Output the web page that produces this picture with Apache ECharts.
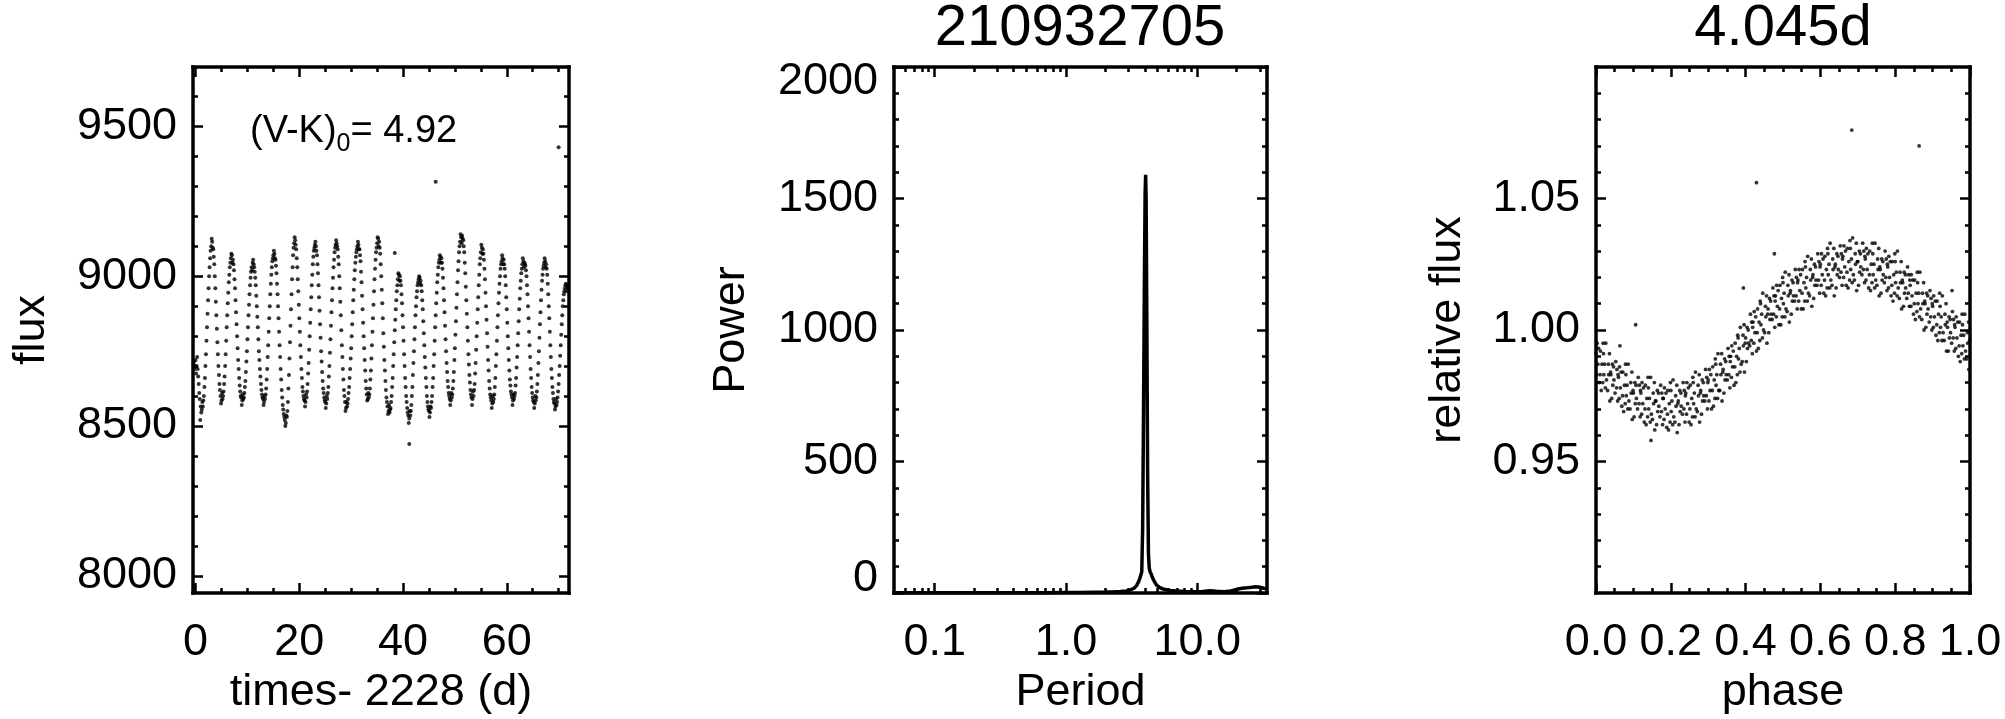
<!DOCTYPE html>
<html><head><meta charset="utf-8">
<script src="https://cdn.jsdelivr.net/npm/echarts@6/dist/echarts.min.js"></script>
<style>html,body{margin:0;padding:0;background:#fff}#c{width:2005px;height:719px}</style>
</head><body><div id="c"></div>
<script>
// ---------- DATA ----------
// Panel 1: light curve [time - 2228 (d), flux]
const lightCurve = [
[-0.4,8705],[-0.3,8715],[-0.2,8690],[-0.1,8700],[0,8720],[0.1,8675],[0.2,8700],[0.3,8730],[0.4,8690],[0.5,8665],[0.6,8640],[0.7,8610],[0.8,8590],[0.9,8520],[1,8565],[1.1,8545],[1.2,8555],[1.3,8580],
[1.4,8565],[1.5,8585],[1.6,8600],[1.7,8630],[1.8,8660],[1.9,8700],[2,8740],[2.1,8785],[2.2,8830],[2.3,8875],[2.4,8920],[2.5,8960],[2.6,9000],[2.7,9030],[2.8,9060],[2.9,9085],[3,9100],[3.1,9125],[3.2,9115],[3.3,9095],
[3.4,9090],[3.5,9065],[3.6,9040],[3.7,9000],[3.8,8960],[3.9,8915],[4,8870],[4.1,8825],[4.2,8780],[4.3,8740],[4.4,8700],[4.5,8670],[4.6,8640],[4.7,8620],[4.8,8600],[4.9,8575],[5,8585],[5.1,8610],[5.2,8590],
[5.3,8600],[5.4,8615],[5.5,8640],[5.6,8665],[5.7,8700],[5.8,8740],[5.9,8785],[6,8830],[6.1,8870],[6.2,8910],[6.3,8945],[6.4,8980],[6.5,9005],[6.6,9030],[6.7,9045],[6.8,9060],[6.9,9075],[7,9070],[7.1,9045],[7.2,9055],
[7.3,9040],[7.4,9020],[7.5,8990],[7.6,8960],[7.7,8920],[7.8,8880],[7.9,8840],[8,8800],[8.1,8760],[8.2,8720],[8.3,8690],[8.4,8660],[8.5,8635],[8.6,8615],[8.7,8600],[8.8,8595],[8.9,8570],[9,8585],[9.1,8605],[9.2,8590],
[9.3,8595],[9.4,8610],[9.5,8630],[9.6,8650],[9.7,8680],[9.8,8715],[9.9,8750],[10,8790],[10.1,8830],[10.2,8870],[10.3,8905],[10.4,8940],[10.5,8970],[10.6,8995],[10.7,9015],[10.8,9030],[10.9,9020],[11,9045],[11.1,9055],[11.2,9040],
[11.3,9030],[11.4,9015],[11.5,8995],[11.6,8970],[11.7,8935],[11.8,8900],[11.9,8865],[12,8830],[12.1,8790],[12.2,8750],[12.3,8720],[12.4,8690],[12.5,8665],[12.6,8640],[12.7,8620],[12.8,8605],[12.9,8595],[13,8590],[13.1,8570],[13.2,8580],[13.3,8600],[13.4,8590],
[13.5,8605],[13.6,8625],[13.7,8655],[13.8,8690],[13.9,8730],[14,8770],[14.1,8815],[14.2,8860],[14.3,8900],[14.4,8940],[14.5,8975],[14.6,9005],[14.7,9030],[14.8,9050],[14.9,9060],[15,9070],[15.1,9085],[15.2,9075],[15.3,9060],[15.4,9055],
[15.5,9035],[15.6,9010],[15.7,8975],[15.8,8940],[15.9,8900],[16,8860],[16.1,8815],[16.2,8770],[16.3,8730],[16.4,8690],[16.5,8655],[16.6,8620],[16.7,8595],[16.8,8570],[16.9,8555],[17,8540],[17.1,8530],[17.2,8520],[17.3,8500],[17.4,8510],[17.5,8535],[17.6,8530],
[17.7,8550],[17.8,8580],[17.9,8625],[18,8670],[18.1,8725],[18.2,8780],[18.3,8835],[18.4,8890],[18.5,8940],[18.6,8990],[18.7,9030],[18.8,9070],[18.9,9095],[19,9110],[19.1,9130],[19.2,9120],[19.3,9105],
[19.4,9090],[19.5,9060],[19.6,9030],[19.7,8990],[19.8,8950],[19.9,8905],[20,8860],[20.1,8815],[20.2,8770],[20.3,8730],[20.4,8690],[20.5,8660],[20.6,8630],[20.7,8615],[20.8,8600],[20.9,8590],[21,8585],[21.1,8565],[21.2,8580],[21.3,8605],[21.4,8595],
[21.5,8615],[21.6,8640],[21.7,8675],[21.8,8710],[21.9,8755],[22,8800],[22.1,8845],[22.2,8890],[22.3,8930],[22.4,8970],[22.5,9005],[22.6,9040],[22.7,9065],[22.8,9085],[22.9,9095],[23,9105],[23.1,9115],[23.2,9100],[23.3,9085],
[23.4,9070],[23.5,9040],[23.6,9010],[23.7,8970],[23.8,8930],[23.9,8885],[24,8840],[24.1,8795],[24.2,8750],[24.3,8715],[24.4,8680],[24.5,8650],[24.6,8625],[24.7,8610],[24.8,8595],[24.9,8585],[25,8580],[25.1,8560],[25.2,8575],[25.3,8600],[25.4,8590],
[25.5,8610],[25.6,8630],[25.7,8665],[25.8,8700],[25.9,8745],[26,8790],[26.1,8835],[26.2,8880],[26.3,8920],[26.4,8960],[26.5,8995],[26.6,9030],[26.7,9055],[26.8,9080],[26.9,9095],[27,9105],[27.1,9120],[27.2,9110],[27.3,9100],[27.4,9090],
[27.5,9065],[27.6,9040],[27.7,9000],[27.8,8960],[27.9,8915],[28,8870],[28.1,8820],[28.2,8770],[28.3,8730],[28.4,8690],[28.5,8655],[28.6,8620],[28.7,8600],[28.8,8580],[28.9,8550],[29,8560],[29.1,8580],[29.2,8565],[29.3,8575],
[29.4,8590],[29.5,8610],[29.6,8630],[29.7,8660],[29.8,8690],[29.9,8725],[30,8760],[30.1,8800],[30.2,8840],[30.3,8880],[30.4,8920],[30.5,8955],[30.6,8990],[30.7,9020],[30.8,9045],[30.9,9065],[31,9080],[31.1,9090],[31.2,9100],[31.3,9115],[31.4,9105],[31.5,9090],[31.6,9090],[31.7,9070],
[31.8,9050],[31.9,9015],[32,8980],[32.1,8935],[32.2,8890],[32.3,8845],[32.4,8800],[32.5,8760],[32.6,8720],[32.7,8685],[32.8,8650],[32.9,8625],[33,8605],[33.1,8585],[33.2,8590],[33.3,8610],[33.4,8595],[33.5,8605],
[33.6,8625],[33.7,8655],[33.8,8685],[33.9,8725],[34,8770],[34.1,8815],[34.2,8860],[34.3,8905],[34.4,8950],[34.5,8990],[34.6,9025],[34.7,9055],[34.8,9080],[34.9,9095],[35,9110],[35.1,9130],[35.2,9125],[35.3,9100],[35.4,9115],[35.5,9095],
[35.6,9075],[35.7,9040],[35.8,9000],[35.9,8955],[36,8910],[36.1,8860],[36.2,8810],[36.3,8765],[36.4,8720],[36.5,8685],[36.6,8650],[36.7,8620],[36.8,8595],[36.9,8580],[37,8565],[37.1,8540],[37.2,8550],[37.3,8570],[37.4,8545],[37.5,8555],[37.6,8560],[37.7,8580],
[37.8,8600],[37.9,8630],[38,8660],[38.1,8700],[38.2,8740],[38.3,8780],[38.4,8820],[38.5,8855],[38.6,8890],[38.7,8920],[38.8,8950],[38.9,8970],[39,8990],[39.1,9010],[39.2,9005],[39.3,8985],[39.4,9000],[39.5,8985],
[39.6,8970],[39.7,8940],[39.8,8910],[39.9,8870],[40,8830],[40.1,8785],[40.2,8740],[40.3,8700],[40.4,8660],[40.5,8630],[40.6,8600],[40.7,8580],[40.8,8560],[40.9,8545],[41,8535],[41.1,8510],[41.2,8525],[41.3,8550],[41.4,8535],[41.5,8550],
[41.6,8570],[41.7,8600],[41.8,8630],[41.9,8670],[42,8710],[42.1,8750],[42.2,8790],[42.3,8830],[42.4,8870],[42.5,8900],[42.6,8930],[42.7,8950],[42.8,8970],[42.9,8980],[43,8990],[43.1,9000],[43.2,8995],[43.3,8975],[43.4,8985],[43.5,8970],
[43.6,8950],[43.7,8920],[43.8,8890],[43.9,8850],[44,8810],[44.1,8770],[44.2,8730],[44.3,8695],[44.4,8660],[44.5,8630],[44.6,8600],[44.7,8580],[44.8,8565],[44.9,8555],[45,8550],[45.1,8530],[45.2,8545],[45.3,8565],[45.4,8560],[45.5,8580],
[45.6,8600],[45.7,8630],[45.8,8660],[45.9,8700],[46,8740],[46.1,8785],[46.2,8830],[46.3,8870],[46.4,8910],[46.5,8945],[46.6,8980],[46.7,9005],[46.8,9030],[46.9,9045],[47,9055],[47.1,9070],[47.2,9065],[47.3,9045],[47.4,9060],[47.5,9045],
[47.6,9025],[47.7,8995],[47.8,8960],[47.9,8920],[48,8880],[48.1,8835],[48.2,8790],[48.3,8750],[48.4,8710],[48.5,8680],[48.6,8650],[48.7,8630],[48.8,8610],[48.9,8600],[49,8590],[49.1,8570],[49.2,8585],[49.3,8610],[49.4,8595],[49.5,8605],
[49.6,8625],[49.7,8650],[49.8,8680],[49.9,8720],[50,8760],[50.1,8805],[50.2,8850],[50.3,8895],[50.4,8940],[50.5,8980],[50.6,9020],[50.7,9050],[50.8,9080],[50.9,9100],[51,9115],[51.1,9140],[51.2,9130],[51.3,9110],[51.4,9135],[51.5,9125],[51.6,9120],[51.7,9100],
[51.8,9080],[51.9,9045],[52,9010],[52.1,8965],[52.2,8920],[52.3,8875],[52.4,8830],[52.5,8785],[52.6,8740],[52.7,8705],[52.8,8670],[52.9,8645],[53,8620],[53.1,8605],[53.2,8595],[53.3,8570],[53.4,8590],[53.5,8615],[53.6,8600],[53.7,8620],
[53.8,8640],[53.9,8675],[54,8710],[54.1,8755],[54.2,8800],[54.3,8845],[54.4,8890],[54.5,8930],[54.6,8970],[54.7,9005],[54.8,9040],[54.9,9060],[55,9080],[55.1,9105],[55.2,9095],[55.3,9075],[55.4,9090],[55.5,9075],
[55.6,9055],[55.7,9025],[55.8,8990],[55.9,8945],[56,8900],[56.1,8855],[56.2,8810],[56.3,8765],[56.4,8720],[56.5,8685],[56.6,8650],[56.7,8625],[56.8,8605],[56.9,8595],[57,8585],[57.1,8560],[57.2,8575],[57.3,8600],[57.4,8580],[57.5,8590],
[57.6,8605],[57.7,8630],[57.8,8660],[57.9,8700],[58,8740],[58.1,8785],[58.2,8830],[58.3,8870],[58.4,8910],[58.5,8945],[58.6,8975],[58.7,9000],[58.8,9025],[58.9,9040],[59,9050],[59.1,9070],[59.2,9060],[59.3,9040],[59.4,9055],[59.5,9040],
[59.6,9025],[59.7,9000],[59.8,8970],[59.9,8930],[60,8890],[60.1,8845],[60.2,8800],[60.3,8760],[60.4,8720],[60.5,8685],[60.6,8655],[60.7,8635],[60.8,8615],[60.9,8605],[61,8595],[61.1,8570],[61.2,8585],[61.3,8605],[61.4,8590],[61.5,8600],
[61.6,8610],[61.7,8635],[61.8,8660],[61.9,8695],[62,8730],[62.1,8770],[62.2,8810],[62.3,8850],[62.4,8890],[62.5,8925],[62.6,8960],[62.7,8985],[62.8,9010],[62.9,9025],[63,9040],[63.1,9060],[63.2,9050],[63.3,9030],[63.4,9045],[63.5,9040],[63.6,9035],[63.7,9020],
[63.8,9000],[63.9,8970],[64,8940],[64.1,8900],[64.2,8860],[64.3,8815],[64.4,8770],[64.5,8730],[64.6,8690],[64.7,8660],[64.8,8630],[64.9,8610],[65,8595],[65.1,8585],[65.2,8580],[65.3,8560],[65.4,8575],[65.5,8600],[65.6,8585],[65.7,8595],
[65.8,8615],[65.9,8640],[66,8670],[66.1,8710],[66.2,8750],[66.3,8795],[66.4,8840],[66.5,8880],[66.6,8920],[66.7,8955],[66.8,8985],[66.9,9005],[67,9025],[67.1,9035],[67.2,9045],[67.3,9060],[67.4,9050],[67.5,9030],[67.6,9040],[67.7,9025],
[67.8,9005],[67.9,8975],[68,8940],[68.1,8900],[68.2,8860],[68.3,8815],[68.4,8770],[68.5,8730],[68.6,8690],[68.7,8660],[68.8,8630],[68.9,8610],[69,8590],[69.1,8580],[69.2,8575],[69.3,8555],[69.4,8565],[69.5,8590],[69.6,8570],[69.7,8580],
[69.8,8595],[69.9,8615],[70,8640],[70.1,8670],[70.2,8700],[70.3,8735],[70.4,8770],[70.5,8805],[70.6,8840],[70.7,8870],[70.8,8900],[70.9,8920],[71,8940],[71.1,8950],[71.2,8960],[71.3,8970],[71.4,8975],[71.5,8950],[71.6,8970],[71.7,8960],[71.8,8965],
[46.3,9315],[70.0,9430],[38.4,9077],[41.2,8440]
];
const timeTicks = [0, 20, 40, 60];
const timeMinorTicks = [5, 10, 15, 25, 30, 35, 45, 50, 55, 65, 70];
const fluxTicks = [8000, 8500, 9000, 9500];
const fluxMinorTicks = [8100, 8200, 8300, 8400, 8600, 8700, 8800, 8900, 9100, 9200, 9300, 9400, 9600];

// Panel 2: periodogram [period (d), power]
const periodogram = [
[0.049,1],[0.07,1],[0.1,1],[0.15,1],[0.2,1],[0.3,1],[0.5,1],[0.7,1],[1,2],[1.3,2],[1.6,3],[2,4],[2.3,5],[2.6,6],[2.9,8],
[3.1,12],[3.3,18],[3.45,28],[3.55,40],[3.65,55],[3.72,62],[3.78,80],[3.84,250],[3.9,700],[3.96,1200],[4.01,1520],[4.045,1590],
[4.08,1500],[4.13,1050],[4.19,450],[4.25,150],[4.31,95],[4.38,80],[4.46,72],[4.55,60],[4.7,45],[4.9,30],[5.2,20],[5.6,14],
[6.2,10],[7,8],[8,6],[9.5,5],[11,6],[12.5,9],[14,7],[16,5],[18,8],[20,14],[22,18],[24,20],[26,22],[28,24],[30,22],[32,18],[34,16]
];
const periodTicks = [0.1, 1, 10];
const periodMinorTicks = [0.06,0.07,0.08,0.09,0.2,0.3,0.4,0.5,0.6,0.7,0.8,0.9,2,3,4,5,6,7,8,9,20,30];
const powerTicks = [0, 500, 1000, 1500, 2000];
const powerMinorTicks = [100,200,300,400,600,700,800,900,1100,1200,1300,1400,1600,1700,1800,1900];

// Panel 3: phase-folded light curve [phase, relative flux]
const phaseFolded = [
[.000,.991],[.002,.983],[.003,.995],[.005,.987],[.007,.993],[.009,.980],
[.011,.983],[.012,.992],[.014,.977],[.016,.987],[.018,.980],[.019,.995],
[.020,.991],[.021,.983],[.023,.987],[.025,.978],[.026,.995],[.028,.981],
[.031,.977],[.033,.987],[.034,.983],[.036,.991],[.037,.973],[.039,.984],
[.040,.983],[.042,.974],[.044,.987],[.045,.979],[.047,.986],[.048,.981],
[.051,.976],[.053,.988],[.055,.978],[.056,.985],[.058,.973],[.059,.983],
[.060,.982],[.062,.974],[.063,.986],[.065,.978],[.067,.984],[.069,.971],
[.071,.975],[.072,.984],[.074,.969],[.076,.979],[.078,.972],[.079,.987],
[.080,.983],[.081,.975],[.083,.979],[.085,.970],[.086,.987],[.088,.973],
[.091,.970],[.093,.980],[.094,.976],[.096,.984],[.097,.966],[.099,.977],
[.100,.976],[.102,.967],[.104,.980],[.105,.972],[.107,.979],[.108,.974],
[.111,.970],[.113,.982],[.115,.972],[.116,.979],[.118,.967],[.119,.977],
[.120,.976],[.122,.968],[.123,.980],[.125,.972],[.127,.978],[.129,.965],
[.131,.970],[.132,.979],[.134,.964],[.136,.974],[.138,.967],[.139,.982],
[.140,.978],[.141,.970],[.143,.974],[.145,.965],[.146,.982],[.148,.968],
[.151,.966],[.153,.976],[.154,.972],[.156,.980],[.157,.962],[.159,.973],
[.160,.973],[.162,.964],[.164,.977],[.165,.969],[.167,.976],[.168,.971],
[.171,.967],[.173,.979],[.175,.969],[.176,.976],[.178,.964],[.179,.974],
[.180,.974],[.182,.966],[.183,.978],[.185,.970],[.187,.976],[.189,.963],
[.191,.968],[.192,.977],[.194,.962],[.196,.972],[.198,.965],[.199,.980],
[.200,.977],[.201,.969],[.203,.973],[.205,.964],[.206,.981],[.208,.967],
[.211,.965],[.213,.975],[.214,.971],[.216,.979],[.217,.961],[.219,.972],
[.220,.973],[.222,.964],[.224,.977],[.225,.969],[.227,.976],[.228,.971],
[.231,.968],[.233,.980],[.235,.970],[.236,.977],[.238,.965],[.239,.975],
[.240,.976],[.242,.968],[.243,.980],[.245,.972],[.247,.978],[.249,.965],
[.251,.970],[.252,.979],[.254,.964],[.256,.974],[.258,.967],[.259,.982],
[.260,.980],[.261,.972],[.263,.976],[.265,.967],[.266,.984],[.268,.970],
[.271,.969],[.273,.979],[.274,.975],[.276,.983],[.277,.965],[.279,.976],
[.280,.977],[.282,.968],[.284,.981],[.285,.973],[.287,.980],[.288,.975],
[.291,.973],[.293,.985],[.295,.975],[.296,.982],[.298,.970],[.299,.980],
[.300,.981],[.302,.973],[.303,.985],[.305,.977],[.307,.983],[.309,.970],
[.311,.977],[.312,.986],[.314,.971],[.316,.981],[.318,.974],[.319,.989],
[.320,.987],[.321,.979],[.323,.983],[.325,.974],[.326,.991],[.328,.977],
[.331,.977],[.333,.987],[.334,.983],[.336,.991],[.337,.973],[.339,.984],
[.340,.985],[.342,.976],[.344,.989],[.345,.981],[.347,.988],[.348,.983],
[.351,.981],[.353,.993],[.355,.983],[.356,.990],[.358,.978],[.359,.988],
[.360,.990],[.362,.982],[.363,.994],[.365,.986],[.367,.992],[.369,.979],
[.371,.986],[.372,.995],[.374,.980],[.376,.990],[.378,.983],[.379,.998],
[.380,.997],[.381,.989],[.383,.993],[.385,.984],[.386,1.001],[.388,.987],
[.391,.988],[.393,.998],[.394,.994],[.396,1.002],[.397,.984],[.399,.995],
[.400,.997],[.402,.988],[.404,1.001],[.405,.993],[.407,1.000],[.408,.995],
[.411,.994],[.413,1.006],[.415,.996],[.416,1.003],[.418,.991],[.419,1.001],
[.420,1.003],[.422,.995],[.423,1.007],[.425,.999],[.427,1.005],[.429,.992],
[.431,.999],[.432,1.008],[.434,.993],[.436,1.003],[.438,.996],[.439,1.011],
[.440,1.010],[.441,1.002],[.443,1.006],[.445,.997],[.446,1.014],[.448,1.000],
[.451,.999],[.453,1.009],[.454,1.005],[.456,1.013],[.457,.995],[.459,1.006],
[.460,1.008],[.462,.999],[.464,1.012],[.465,1.004],[.467,1.011],[.468,1.006],
[.471,1.004],[.473,1.016],[.475,1.006],[.476,1.013],[.478,1.001],[.479,1.011],
[.480,1.013],[.482,1.005],[.483,1.017],[.485,1.009],[.487,1.015],[.489,1.002],
[.491,1.008],[.492,1.017],[.494,1.002],[.496,1.012],[.498,1.005],[.499,1.020],
[.500,1.018],[.501,1.010],[.503,1.014],[.505,1.005],[.506,1.022],[.508,1.008],
[.511,1.007],[.513,1.017],[.514,1.013],[.516,1.021],[.517,1.003],[.519,1.014],
[.520,1.015],[.522,1.006],[.524,1.019],[.525,1.011],[.527,1.018],[.528,1.013],
[.531,1.011],[.533,1.023],[.535,1.013],[.536,1.020],[.538,1.008],[.539,1.018],
[.540,1.019],[.542,1.011],[.543,1.023],[.545,1.015],[.547,1.021],[.549,1.008],
[.551,1.014],[.552,1.023],[.554,1.008],[.556,1.018],[.558,1.011],[.559,1.026],
[.560,1.024],[.561,1.016],[.563,1.020],[.565,1.011],[.566,1.028],[.568,1.014],
[.571,1.013],[.573,1.023],[.574,1.019],[.576,1.027],[.577,1.009],[.579,1.020],
[.580,1.021],[.582,1.012],[.584,1.025],[.585,1.017],[.587,1.024],[.588,1.019],
[.591,1.017],[.593,1.029],[.595,1.019],[.596,1.026],[.598,1.014],[.599,1.024],
[.600,1.025],[.602,1.017],[.603,1.029],[.605,1.021],[.607,1.027],[.609,1.014],
[.611,1.019],[.612,1.028],[.614,1.013],[.616,1.023],[.618,1.016],[.619,1.031],
[.620,1.029],[.621,1.021],[.623,1.025],[.625,1.016],[.626,1.033],[.628,1.019],
[.631,1.017],[.633,1.027],[.634,1.023],[.636,1.031],[.637,1.013],[.639,1.024],
[.640,1.025],[.642,1.016],[.644,1.029],[.645,1.021],[.647,1.028],[.648,1.023],
[.651,1.020],[.653,1.032],[.655,1.022],[.656,1.029],[.658,1.017],[.659,1.027],
[.660,1.028],[.662,1.020],[.663,1.032],[.665,1.024],[.667,1.030],[.669,1.017],
[.671,1.022],[.672,1.031],[.674,1.016],[.676,1.026],[.678,1.019],[.679,1.034],
[.680,1.031],[.681,1.023],[.683,1.027],[.685,1.018],[.686,1.035],[.688,1.021],
[.691,1.019],[.693,1.029],[.694,1.025],[.696,1.033],[.697,1.015],[.699,1.026],
[.700,1.026],[.702,1.017],[.704,1.030],[.705,1.022],[.707,1.029],[.708,1.024],
[.711,1.021],[.713,1.033],[.715,1.023],[.716,1.030],[.718,1.018],[.719,1.028],
[.720,1.027],[.722,1.019],[.723,1.031],[.725,1.023],[.727,1.029],[.729,1.016],
[.731,1.021],[.732,1.030],[.734,1.015],[.736,1.025],[.738,1.018],[.739,1.033],
[.740,1.029],[.741,1.021],[.743,1.025],[.745,1.016],[.746,1.033],[.748,1.019],
[.751,1.017],[.753,1.027],[.754,1.023],[.756,1.031],[.757,1.013],[.759,1.024],
[.760,1.023],[.762,1.014],[.764,1.027],[.765,1.019],[.767,1.026],[.768,1.021],
[.771,1.018],[.773,1.030],[.775,1.020],[.776,1.027],[.778,1.015],[.779,1.025],
[.780,1.024],[.782,1.016],[.783,1.028],[.785,1.020],[.787,1.026],[.789,1.013],
[.791,1.017],[.792,1.026],[.794,1.011],[.796,1.021],[.798,1.014],[.799,1.029],
[.800,1.026],[.801,1.018],[.803,1.022],[.805,1.013],[.806,1.030],[.808,1.016],
[.811,1.012],[.813,1.022],[.814,1.018],[.816,1.026],[.817,1.008],[.819,1.019],
[.820,1.018],[.822,1.009],[.824,1.022],[.825,1.014],[.827,1.021],[.828,1.016],
[.831,1.012],[.833,1.024],[.835,1.014],[.836,1.021],[.838,1.009],[.839,1.019],
[.840,1.017],[.842,1.009],[.843,1.021],[.845,1.013],[.847,1.019],[.849,1.006],
[.851,1.010],[.852,1.019],[.854,1.004],[.856,1.014],[.858,1.007],[.859,1.022],
[.860,1.018],[.861,1.010],[.863,1.014],[.865,1.005],[.866,1.022],[.868,1.008],
[.871,1.004],[.873,1.014],[.874,1.010],[.876,1.018],[.877,1.000],[.879,1.011],
[.880,1.010],[.882,1.001],[.884,1.014],[.885,1.006],[.887,1.013],[.888,1.008],
[.891,1.003],[.893,1.015],[.895,1.005],[.896,1.012],[.898,1.000],[.899,1.010],
[.900,1.009],[.902,1.001],[.903,1.013],[.905,1.005],[.907,1.011],[.909,.998],
[.911,1.002],[.912,1.011],[.914,.996],[.916,1.006],[.918,.999],[.919,1.014],
[.920,1.009],[.921,1.001],[.923,1.005],[.925,.996],[.926,1.013],[.928,.999],
[.931,.996],[.933,1.006],[.934,1.002],[.936,1.010],[.937,.992],[.939,1.003],
[.940,1.001],[.942,.992],[.944,1.005],[.945,.997],[.947,1.004],[.948,.999],
[.951,.995],[.953,1.007],[.955,.997],[.956,1.004],[.958,.992],[.959,1.002],
[.960,1.001],[.962,.993],[.963,1.005],[.965,.997],[.967,1.003],[.969,.990],
[.971,.994],[.972,1.003],[.974,.988],[.976,.998],[.978,.991],[.979,1.006],
[.980,1.002],[.981,.994],[.983,.998],[.985,.989],[.986,1.006],[.988,.992],
[.991,.989],[.993,.999],[.994,.995],[.996,1.003],[.997,.985],[.999,.996],
[.429,1.056],[.684,1.076],[.864,1.070],[.106,1.002],[.147,.958],[.477,1.029],[.394,1.016],[.952,1.015],[.064,.994]
];
const phaseTicks = [0, 0.2, 0.4, 0.6, 0.8, 1.0];
const phaseMinorTicks = [0.05,0.1,0.15,0.25,0.3,0.35,0.45,0.5,0.55,0.65,0.7,0.75,0.85,0.9,0.95];
const relFluxTicks = [0.95, 1.0, 1.05];
const relFluxMinorTicks = [0.91,0.92,0.93,0.94,0.96,0.97,0.98,0.99,1.01,1.02,1.03,1.04,1.06,1.07,1.08,1.09];

const starId = '210932705';
const periodLabel = '4.045d';
const colourLabel = '(V-K)';
const colourValue = '4.92';

// ---------- STYLE / LAYOUT ----------
const FONT = '"Liberation Sans", Arial, Helvetica, sans-serif';
const BLACK = '#000';
const TICK_FS = 45, NAME_FS = 45;

function axisSet(dim, gridIndex, o) {
  const base = {
    gridIndex: gridIndex, type: o.type || 'value', min: o.min, max: o.max,
    splitLine: {show: false}, splitArea: {show: false}, axisPointer: {show: false},
    silent: true
  };
  if (o.type === 'log') base.logBase = 10;
  const pos = dim === 'x' ? ['bottom', 'top'] : ['left', 'right'];
  const line = {show: true, onZero: false, lineStyle: {color: BLACK, width: 3.5, cap: 'square'}};
  const noLine = {show: false, onZero: false};
  const tick = (vals, len) => ({show: true, inside: true, length: len, customValues: vals,
                                lineStyle: {color: BLACK, width: 2.5}});
  const noLabel = {show: false};
  const label = Object.assign({
    show: true, customValues: o.labels, formatter: o.fmt, color: BLACK,
    fontSize: TICK_FS, fontFamily: FONT, margin: dim === 'x' ? 27 : 16
  }, o.labelExtra || {});
  return [
    Object.assign({}, base, {
      position: pos[0], axisLine: line, axisTick: tick(o.majors, 10), axisLabel: label,
      name: o.name, nameLocation: 'middle', nameGap: o.nameGap, nameMoveOverlap: false,
      nameTextStyle: {color: BLACK, fontSize: NAME_FS, fontFamily: FONT}
    }),
    Object.assign({}, base, {position: pos[0], axisLine: noLine, axisTick: tick(o.minors, 5), axisLabel: noLabel}),
    Object.assign({}, base, {position: pos[1], axisLine: line, axisTick: tick(o.majors, 10), axisLabel: noLabel}),
    Object.assign({}, base, {position: pos[1], axisLine: noLine, axisTick: tick(o.minors, 5), axisLabel: noLabel})
  ];
}

// power axis: the end labels sit slightly inside the frame
const powerLabelFmt = v => {
  const t = String(Math.round(v));
  if (v === powerTicks[0]) return '{lo|' + t + '}';
  if (v === powerTicks[powerTicks.length - 1]) return '{hi|' + t + '}';
  return t;
};
const edgeRich = {
  lo: {fontSize: TICK_FS, fontFamily: FONT, color: BLACK, padding: [0, 0, 28, 0]},
  hi: {fontSize: TICK_FS, fontFamily: FONT, color: BLACK, padding: [30, 0, 0, 0]}
};

const xAxes = [].concat(
  axisSet('x', 0, {min: -0.5, max: 72, majors: timeTicks, minors: timeMinorTicks, labels: timeTicks,
                   fmt: v => String(Math.round(v)), name: 'times- 2228 (d)', nameGap: 77}),
  axisSet('x', 1, {type: 'log', min: 0.049, max: 34, majors: periodTicks, minors: periodMinorTicks, labels: periodTicks,
                   fmt: v => Number(v).toFixed(1), name: 'Period', nameGap: 77}),
  axisSet('x', 2, {min: 0, max: 1, majors: phaseTicks, minors: phaseMinorTicks, labels: phaseTicks,
                   fmt: v => Number(v).toFixed(1), name: 'phase', nameGap: 77})
);
const yAxes = [].concat(
  axisSet('y', 0, {min: 7943, max: 9698, majors: fluxTicks, minors: fluxMinorTicks, labels: fluxTicks,
                   fmt: v => String(Math.round(v)), name: 'flux', nameGap: 139}),
  axisSet('y', 1, {min: 0, max: 2000, majors: powerTicks, minors: powerMinorTicks, labels: powerTicks,
                   fmt: powerLabelFmt, name: 'Power', nameGap: 140, labelExtra: {rich: edgeRich}}),
  axisSet('y', 2, {min: 0.9, max: 1.1, majors: relFluxTicks, minors: relFluxMinorTicks, labels: relFluxTicks,
                   fmt: v => Number(v).toFixed(2), name: 'relative flux', nameGap: 126})
);

const chart = echarts.init(document.getElementById('c'), null, {renderer: 'canvas'});
chart.setOption({
  animation: false,
  backgroundColor: '#fff',
  grid: [
    {left: 193, top: 67, width: 376, height: 526, outerBoundsMode: 'none', containLabel: false},
    {left: 894, top: 67, width: 373, height: 526, outerBoundsMode: 'none', containLabel: false},
    {left: 1596, top: 67, width: 374, height: 526, outerBoundsMode: 'none', containLabel: false}
  ],
  xAxis: xAxes,
  yAxis: yAxes,
  graphic: [
    {type: 'text', x: 1080, y: 29, silent: true,
     style: {text: starId, fontSize: 58, fontFamily: FONT, fill: BLACK, align: 'center', verticalAlign: 'middle'}},
    {type: 'text', x: 1783, y: 29, silent: true,
     style: {text: periodLabel, fontSize: 58, fontFamily: FONT, fill: BLACK, align: 'center', verticalAlign: 'middle'}},
    {type: 'text', x: 250, y: 135, silent: true, z: 100,
     style: {text: '{a|' + colourLabel + '}{s|0}{a|= ' + colourValue + '}', align: 'left', verticalAlign: 'middle',
             rich: {a: {fontSize: 38, fontFamily: FONT, fill: BLACK, lineHeight: 44, verticalAlign: 'top'},
                    s: {fontSize: 25, fontFamily: FONT, fill: BLACK, lineHeight: 25, verticalAlign: 'bottom'}}}}
  ],
  series: [
    {type: 'scatter', xAxisIndex: 0, yAxisIndex: 0, data: lightCurve, symbol: 'circle', symbolSize: 4,
     itemStyle: {color: BLACK}, silent: true},
    {type: 'line', xAxisIndex: 4, yAxisIndex: 4, data: periodogram, symbol: 'none', showSymbol: false,
     lineStyle: {color: BLACK, width: 3.5}, silent: true},
    {type: 'scatter', xAxisIndex: 8, yAxisIndex: 8, data: phaseFolded, symbol: 'circle', symbolSize: 3.8,
     itemStyle: {color: BLACK}, silent: true}
  ]
});
</script></body></html>
